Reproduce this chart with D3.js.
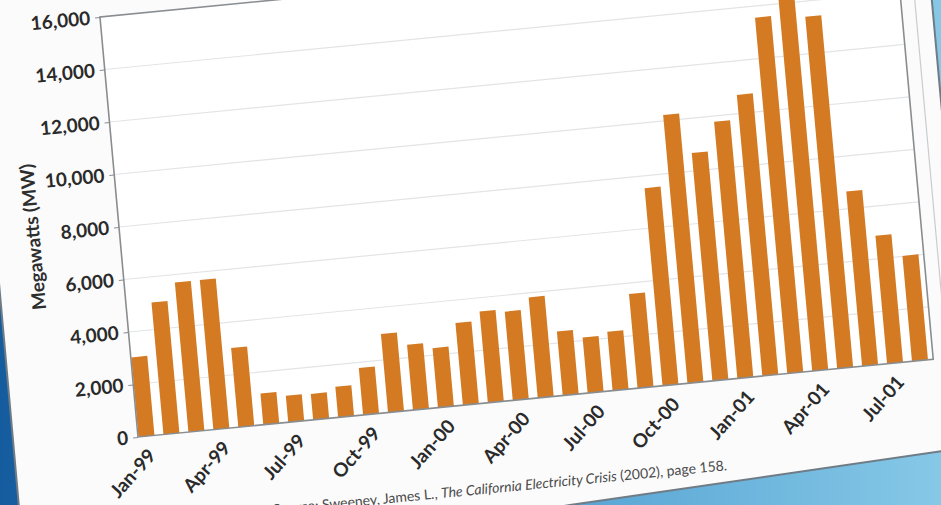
<!DOCTYPE html>
<html>
<head>
<meta charset="utf-8">
<script src="https://cdn.jsdelivr.net/npm/d3@7"></script>
<style>
  html, body { margin: 0; padding: 0; overflow: hidden; background: #3f8cc4; }
  svg { display: block; }
</style>
</head>
<body>
<div id="graphics"></div>
<script>
var months = ["Jan-99","Feb-99","Mar-99","Apr-99","May-99","Jun-99","Jul-99","Aug-99",
              "Sep-99","Oct-99","Nov-99","Dec-99","Jan-00","Feb-00","Mar-00","Apr-00",
              "May-00","Jun-00","Jul-00","Aug-00","Sep-00","Oct-00","Nov-00","Dec-00",
              "Jan-01","Feb-01","Mar-01","Apr-01","May-01","Jun-01","Jul-01","Aug-01"];

var megawatts = [3030, 5030, 5700, 5700, 3020, 1190, 1010, 990,
                 1170, 1790, 2990, 2490, 2270, 3130, 3480, 3380,
                 3830, 2440, 2120, 2240, 3590, 7530, 10220, 8680,
                 9780, 10710, 13560, 14700, 13410, 6660, 4880, 4020];

var yTicks = [0, 2000, 4000, 6000, 8000, 10000, 12000, 14000, 16000];
var tickMonths = ["Jan-99","Apr-99","Jul-99","Oct-99","Jan-00","Apr-00",
                  "Jul-00","Oct-00","Jan-01","Apr-01","Jul-01"];

var sourceNote = "Source: Sweeney, James L., ";
var sourceTitle = "The California Electricity Crisis";
var sourceTail = " (2002), page 158.";

var w = 941, h = 505;
var plotW = 799, plotH = 421.7;

// the chart is a photo of a slide, so the whole thing sits a bit tilted
var ux = 0.9953, uy = -0.0972, vx = 0.0902, vy = 0.9959;
var ox = 138, oy = 437;   // where the axes meet on screen

var font = "Lato, 'DejaVu Sans', sans-serif";

var svg = d3.select("#graphics")
            .append("svg")
            .attr("width", w)
            .attr("height", h);

var defs = svg.append("defs");
var bg = defs.append("linearGradient")
             .attr("id", "slidebg")
             .attr("x1", "0").attr("y1", "0")
             .attr("x2", "1").attr("y2", "0");
bg.append("stop").attr("offset", "0").attr("stop-color", "#145c9e");
bg.append("stop").attr("offset", "0.5").attr("stop-color", "#4a9bd0");
bg.append("stop").attr("offset", "1").attr("stop-color", "#86c8e6");

svg.append("rect")
   .attr("width", w)
   .attr("height", h)
   .attr("fill", "url(#slidebg)");

// white page of the slide
var page = [[-28, -20], [930, -20], [950, 200], [950, 450], [570, 505], [420, 530], [21, 530]];
svg.append("polygon")
   .attr("points", page.map(function(p) { return p.join(","); }).join(" "))
   .attr("fill", "#fbfbfb")
   .attr("stroke", "#6f7c86")
   .attr("stroke-width", 2);

var g = svg.append("g")
           .attr("transform", "matrix(" + [ux, uy, vx, vy, ox - plotH * vx, oy - plotH * vy].join(",") + ")");

var x = d3.scaleBand()
          .domain(months)
          .range([0.5, 793.7])
          .paddingInner(0.36)
          .paddingOuter(0);

var y = d3.scaleLinear()
          .domain([0, 16000])
          .range([plotH, 0]);

g.append("rect")
 .attr("width", plotW)
 .attr("height", plotH)
 .attr("fill", "#ffffff");

g.selectAll("line.grid")
 .data(yTicks.slice(1, -1))
 .enter()
 .append("line")
 .attr("class", "grid")
 .attr("x1", 0)
 .attr("x2", plotW)
 .attr("y1", function(d) { return y(d); })
 .attr("y2", function(d) { return y(d); })
 .attr("stroke", "#e2e4e6")
 .attr("stroke-width", 1.2);

g.selectAll("rect.bar")
 .data(megawatts)
 .enter()
 .append("rect")
 .attr("class", "bar")
 .attr("x", function(d, i) { return x(months[i]); })
 .attr("y", function(d) { return y(d); })
 .attr("width", x.bandwidth())
 .attr("height", function(d) { return plotH - y(d); })
 .attr("fill", "#d47a22");

g.append("rect")
 .attr("width", plotW)
 .attr("height", plotH)
 .attr("fill", "none")
 .attr("stroke", "#8a8d90")
 .attr("stroke-width", 1.6);

// second light frame line just right of the plot
g.append("line")
 .attr("x1", plotW + 14).attr("x2", plotW + 14)
 .attr("y1", -60).attr("y2", plotH + 8)
 .attr("stroke", "#c9cccf")
 .attr("stroke-width", 1.2);

var yAxis = g.append("g")
             .call(d3.axisLeft(y)
                     .tickValues(yTicks)
                     .tickFormat(d3.format(","))
                     .tickSize(5)
                     .tickPadding(5));
yAxis.select(".domain").remove();
yAxis.selectAll("line").attr("stroke", "#8a8d90");
yAxis.selectAll("text")
     .attr("font-family", font)
     .attr("font-weight", "bold")
     .attr("font-size", "19px")
     .attr("fill", "#2a2a2a");

var xAxis = g.append("g")
             .attr("transform", "translate(0," + plotH + ")")
             .call(d3.axisBottom(x)
                     .tickValues(tickMonths)
                     .tickSize(0));
xAxis.select(".domain").remove();
xAxis.selectAll("text")
     .attr("x", 0)
     .attr("y", 0)
     .attr("dy", "0.35em")
     .attr("transform", "translate(4,16) rotate(-43)")
     .style("text-anchor", "end")
     .attr("font-family", font)
     .attr("font-weight", "bold")
     .attr("font-size", "19px")
     .attr("fill", "#2a2a2a");

g.append("text")
 .attr("transform", "translate(-86.5," + (plotH / 2 + 1.5) + ") rotate(-90)")
 .attr("dy", "0.35em")
 .attr("text-anchor", "middle")
 .attr("font-family", font)
 .attr("font-weight", "bold")
 .attr("font-size", "19px")
 .attr("fill", "#2e2e2e")
 .text("Megawatts (MW)");

var note = g.append("text")
            .attr("x", 584)
            .attr("y", 512)
            .attr("text-anchor", "end")
            .attr("font-family", font)
            .attr("font-size", "14px")
            .attr("fill", "#4a4a4a");
note.append("tspan").text(sourceNote);
note.append("tspan").attr("font-style", "italic").text(sourceTitle);
note.append("tspan").text(sourceTail);
</script>
</body>
</html>
